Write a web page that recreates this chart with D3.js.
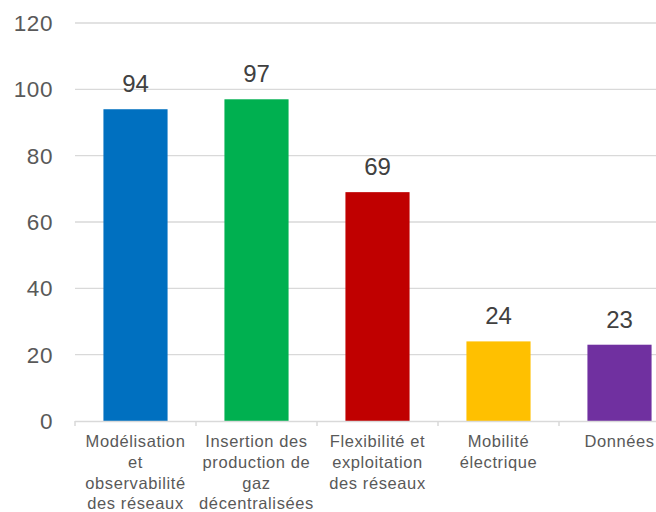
<!DOCTYPE html>
<html><head><meta charset="utf-8">
<script src="https://cdn.jsdelivr.net/npm/d3@7"></script>
<style>body{margin:0;background:#fff}svg{display:block}</style>
</head><body>
<svg id="c" width="656" height="512"></svg>
<script>
const categories = ["Modélisation\net\nobservabilité\ndes réseaux","Insertion des\nproduction de\ngaz\ndécentralisées","Flexibilité et\nexploitation\ndes réseaux","Mobilité\nélectrique","Données"];
const values = [94, 97, 69, 24, 23];
const colors = ["#0070C0","#00B050","#C00000","#FFC000","#7030A0"];
const yTicks = [0,20,40,60,80,100,120];

(function(){
const svg = d3.select("#c");
const mLeft = 75, mRight = 680, mTop = 23, mBottom = 421;
const font = "'Liberation Sans', Arial, sans-serif";
const x = d3.scaleBand().domain(d3.range(categories.length)).range([mLeft, mRight]).paddingInner(0.47).paddingOuter(0.235);
const y = d3.scaleLinear().domain([0,120]).range([mBottom, mTop]);

svg.append("g").selectAll("line").data(yTicks.filter(d=>d>0)).join("line")
  .attr("x1", mLeft).attr("x2", mRight).attr("y1", d=>y(d)).attr("y2", d=>y(d))
  .attr("stroke", "#d9d9d9").attr("stroke-width", 1.3);

svg.append("g").selectAll("text").data(yTicks).join("text")
  .attr("x", 53).attr("y", d=>y(d)+8).attr("text-anchor","end")
  .attr("font-family", font).attr("font-size", 22.5).attr("letter-spacing", 0.6)
  .attr("fill", "#595959").text(d=>d);

svg.append("g").selectAll("rect").data(values).join("rect")
  .attr("x", (d,i)=>x(i)).attr("width", x.bandwidth())
  .attr("y", d=>y(d)).attr("height", d=>mBottom - y(d))
  .attr("fill", (d,i)=>colors[i]);

svg.append("g").selectAll("text").data(values).join("text")
  .attr("x", (d,i)=>x(i)+x.bandwidth()/2).attr("y", d=>y(d)-17)
  .attr("text-anchor","middle").attr("font-family", font).attr("font-size", 24)
  .attr("fill", "#404040").text(d=>d);

const step = x.step();
svg.append("line").attr("x1", mLeft).attr("x2", mRight).attr("y1", mBottom+0.5).attr("y2", mBottom+0.5)
  .attr("stroke", "#d9d9d9").attr("stroke-width", 1.5);
const tickX = d3.range(categories.length+1).map(i => mLeft + i*step);
svg.append("g").selectAll("line").data(tickX).join("line")
  .attr("x1", d=>d).attr("x2", d=>d).attr("y1", mBottom).attr("y2", mBottom+5)
  .attr("stroke", "#d9d9d9").attr("stroke-width", 1.5);

const cg = svg.append("g").selectAll("text").data(categories).join("text")
  .attr("x", (d,i)=>x(i)+x.bandwidth()/2).attr("y", 447)
  .attr("text-anchor","middle").attr("font-family", font).attr("font-size", 16.5)
  .attr("letter-spacing", 0.6).attr("fill", "#595959");
cg.each(function(d){
  const t = d3.select(this);
  d.split("\n").forEach((ln, j) => {
    t.append("tspan").attr("x", t.attr("x")).attr("y", 447 + j*20.8).text(ln);
  });
});
})();
</script>
</body></html>
